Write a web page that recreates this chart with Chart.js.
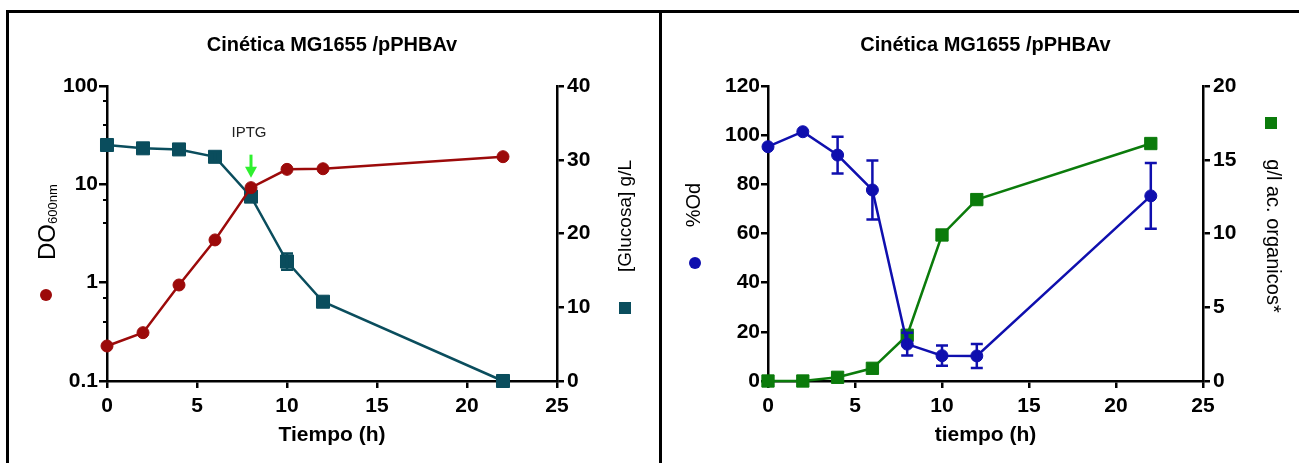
<!DOCTYPE html>
<html lang="es">
<head>
  <meta charset="utf-8" />
  <title>Cinética MG1655 /pPHBAv</title>
  <style>
    body { margin: 0; background: #fff; width: 1299px; height: 463px; overflow: hidden; position: relative; }
    .linea { position: absolute; background: #000; }
    .panel { position: absolute; top: 13px; height: 450px; }
  </style>
</head>
<body>
  <div class="linea" style="left:6px; top:10px; width:1293px; height:3px"></div>
  <div class="linea" style="left:6px; top:10px; width:3px; height:453px"></div>
  <div class="linea" style="left:659px; top:10px; width:3px; height:453px"></div>
  <div class="panel" style="left:9px; width:650px"><canvas id="chartDO"></canvas></div>
  <div class="panel" style="left:662px; width:637px"><canvas id="chartOd"></canvas></div>

  <script src="https://cdn.jsdelivr.net/npm/chart.js@4.4.4/dist/chart.umd.min.js"></script>
  <script>
    // === DATOS ===
    const tiempo = [0, 2, 4, 6, 8, 10, 12, 22];
    const densidadOptica = [0.227, 0.31, 0.947, 2.72, 9.25, 14.2, 14.4, 19.1];
    const glucosa = [32.0, 31.55, 31.4, 30.4, 25.0, 16.2, 10.75, 0];
    const glucosaError = [0, 0, 0, 0.6, 0, 1.1, 0, 0];
    const porcentajeOd = [95.3, 101.4, 91.9, 77.7, 15.0, 10.3, 10.2, 75.3];
    const porcentajeOdError = [0, 0, 7.5, 12, 4.6, 4.1, 4.9, 13.4];
    const acidosOrganicos = [0, 0, 0.25, 0.86, 3.1, 9.9, 12.3, 16.1];

    const ticksTiempo = [0, 5, 10, 15, 20, 25];
    const ticksDO = [0.1, 1, 10, 100];
    const ticksGlucosa = [0, 10, 20, 30, 40];
    const ticksOd = [0, 20, 40, 60, 80, 100, 120];
    const ticksAcidos = [0, 5, 10, 15, 20];
    const tiempoIPTG = 8;

    const ROJO = '#9c0a0a';
    const PETROLEO = '#0a4d5d';
    const AZUL = '#0f0fae';
    const VERDE = '#0b7b0b';
    const FUENTE = "'Liberation Sans', Arial, sans-serif";

    const puntos = serie => tiempo.map((t, i) => ({ x: t, y: serie[i] }));

    // ticks fijos a partir de las listas
    const fijarTicks = valores => s => { s.ticks = valores.map(v => ({ value: v })); };

    // década: 0.1..0.9, 1..9, 10..90, 100 (los mayores llevan número)
    function ticksLog(scale) {
      const lista = [];
      for (let d = 0; d < ticksDO.length - 1; d++) {
        for (let k = 1; k <= 9; k++) lista.push({ value: ticksDO[d] * k, major: k === 1 });
      }
      lista.push({ value: ticksDO[ticksDO.length - 1], major: true });
      scale.ticks = lista;
    }

    function ejeBase(extra) {
      return Object.assign({
        ticks: { color: '#000', font: { family: FUENTE, size: 21, weight: 'bold' } },
        grid: { drawOnChartArea: false, drawTicks: true, tickLength: 7, color: '#000', lineWidth: 2.5 },
        border: { display: true, color: '#000', width: 2.5 }
      }, extra);
    }

    function ejeX(alto) {
      const eje = ejeBase({ type: 'linear', min: 0, max: 25, afterBuildTicks: fijarTicks(ticksTiempo),
        afterFit: s => { s.height = alto; } });
      eje.ticks.padding = 6;
      return eje;
    }

    function dibujarErrores(chart, idx, errores, color) {
      const meta = chart.getDatasetMeta(idx);
      const escala = chart.scales[meta.yAxisID];
      const datos = chart.data.datasets[idx].data;
      const ctx = chart.ctx;
      ctx.save();
      ctx.strokeStyle = color;
      ctx.lineWidth = 2.5;
      meta.data.forEach((p, i) => {
        const e = errores[i];
        if (!e) return;
        const arriba = escala.getPixelForValue(datos[i].y + e);
        const abajo = escala.getPixelForValue(datos[i].y - e);
        ctx.beginPath();
        ctx.moveTo(p.x, arriba); ctx.lineTo(p.x, abajo);
        ctx.moveTo(p.x - 6, arriba); ctx.lineTo(p.x + 6, arriba);
        ctx.moveTo(p.x - 6, abajo); ctx.lineTo(p.x + 6, abajo);
        ctx.stroke();
      });
      ctx.restore();
    }

    function textoRotado(ctx, texto, x, y, angulo, fuente) {
      ctx.save();
      ctx.translate(x, y);
      ctx.rotate(angulo);
      ctx.font = fuente;
      ctx.textAlign = 'center';
      ctx.textBaseline = 'alphabetic';
      ctx.fillText(texto, 0, 0);
      ctx.restore();
    }

    function titulos(ctx, ca, xTitulo) {
      const cx = (ca.left + ca.right) / 2;
      ctx.fillStyle = '#000';
      ctx.textAlign = 'center';
      ctx.textBaseline = 'middle';
      ctx.font = `bold 20px ${FUENTE}`;
      ctx.fillText('Cinética MG1655 /pPHBAv', cx, ca.top - 41);
      ctx.font = `bold 21px ${FUENTE}`;
      ctx.fillText(xTitulo, cx, ca.bottom + 54);
    }

    function circulo(ctx, x, y, r, color) {
      ctx.fillStyle = color;
      ctx.beginPath();
      ctx.arc(x, y, r, 0, Math.PI * 2);
      ctx.fill();
    }

    // === GRÁFICO 1: DO y glucosa ===
    const rotulosDO = {
      id: 'rotulosDO',
      afterDatasetsDraw(chart) {
        dibujarErrores(chart, 1, glucosaError, PETROLEO);
      },
      afterDraw(chart) {
        const ctx = chart.ctx;
        const ca = chart.chartArea;
        const y = chart.scales.y;
        ctx.save();

        // marcas menores del eje logarítmico
        ctx.strokeStyle = '#000';
        ctx.lineWidth = 2;
        y.ticks.forEach(t => {
          if (t.major) return;
          const py = Math.round(y.getPixelForValue(t.value));
          ctx.beginPath();
          ctx.moveTo(ca.left - 4, py);
          ctx.lineTo(ca.left, py);
          ctx.stroke();
        });

        titulos(ctx, ca, 'Tiempo (h)');

        // DO600nm
        ctx.save();
        ctx.translate(ca.left - 52, ca.top + 174);
        ctx.rotate(-Math.PI / 2);
        ctx.fillStyle = '#000';
        ctx.textAlign = 'left';
        ctx.textBaseline = 'alphabetic';
        ctx.font = `24px ${FUENTE}`;
        ctx.fillText('DO', 0, 0);
        const w = ctx.measureText('DO').width;
        ctx.font = `13px ${FUENTE}`;
        ctx.fillText('600nm', w, 2);
        ctx.restore();
        circulo(ctx, ca.left - 61, ca.top + 209, 6, ROJO);

        ctx.fillStyle = '#000';
        textoRotado(ctx, '[Glucosa] g/L', ca.right + 74, ca.top + 130, -Math.PI / 2, `19px ${FUENTE}`);
        ctx.fillStyle = PETROLEO;
        ctx.fillRect(ca.right + 62, ca.top + 216, 12, 12);

        // IPTG
        const px = chart.scales.x.getPixelForValue(tiempoIPTG);
        const punta = y.getPixelForValue(densidadOptica[tiempo.indexOf(tiempoIPTG)]) - 10;
        ctx.fillStyle = '#222';
        ctx.font = `15px ${FUENTE}`;
        ctx.textAlign = 'center';
        ctx.textBaseline = 'middle';
        ctx.fillText('IPTG', px - 2, ca.top + 47);
        ctx.strokeStyle = '#2ef02e';
        ctx.fillStyle = '#2ef02e';
        ctx.lineWidth = 3;
        ctx.beginPath();
        ctx.moveTo(px, punta - 23);
        ctx.lineTo(px, punta - 9);
        ctx.stroke();
        ctx.beginPath();
        ctx.moveTo(px - 6, punta - 11);
        ctx.lineTo(px + 6, punta - 11);
        ctx.lineTo(px, punta);
        ctx.closePath();
        ctx.fill();

        ctx.restore();
      }
    };

    const ejeLog = ejeBase({ type: 'logarithmic', position: 'left', min: 0.1, max: 100,
      afterBuildTicks: ticksLog, afterFit: s => { s.width = 98; } });
    ejeLog.ticks.padding = 1;
    ejeLog.ticks.callback = (v, i, t) => t[i].major ? String(v) : '';
    ejeLog.grid.tickLength = 8;
    ejeLog.grid.tickColor = c => (c.tick && c.tick.major) ? '#000' : 'rgba(0,0,0,0)';

    const ejeGlucosa = ejeBase({ type: 'linear', position: 'right', min: 0, max: 40,
      afterBuildTicks: fijarTicks(ticksGlucosa), afterFit: s => { s.width = 102; } });
    ejeGlucosa.ticks.padding = 3;

    new Chart(document.getElementById('chartDO'), {
      type: 'line',
      data: {
        datasets: [
          {
            label: 'DO600nm', data: puntos(densidadOptica), yAxisID: 'y',
            borderColor: ROJO, backgroundColor: ROJO, borderWidth: 2.5,
            pointRadius: 6, pointBackgroundColor: ROJO, pointBorderColor: ROJO, pointBorderWidth: 1,
            clip: false
          },
          {
            label: '[Glucosa] g/L', data: puntos(glucosa), yAxisID: 'y2',
            borderColor: PETROLEO, backgroundColor: PETROLEO, borderWidth: 2.5,
            pointStyle: 'rect', pointRadius: 9.2, pointBackgroundColor: PETROLEO, pointBorderColor: PETROLEO,
            pointBorderWidth: 1, clip: false
          }
        ]
      },
      options: {
        responsive: true,
        maintainAspectRatio: false,
        animation: false,
        layout: { padding: { top: 73, left: 0, right: 0, bottom: 0 } },
        plugins: { legend: { display: false }, tooltip: { enabled: false } },
        scales: { x: ejeX(82), y: ejeLog, y2: ejeGlucosa }
      },
      plugins: [rotulosDO]
    });

    // === GRÁFICO 2: %Od y ácidos orgánicos ===
    const rotulosOd = {
      id: 'rotulosOd',
      afterDatasetsDraw(chart) {
        dibujarErrores(chart, 0, porcentajeOdError, AZUL);
      },
      afterDraw(chart) {
        const ctx = chart.ctx;
        const ca = chart.chartArea;
        ctx.save();
        titulos(ctx, ca, 'tiempo (h)');

        ctx.fillStyle = '#000';
        textoRotado(ctx, '%Od', ca.left - 68, ca.top + 119, -Math.PI / 2, `20px ${FUENTE}`);
        circulo(ctx, ca.left - 73, ca.top + 177, 6, AZUL);

        ctx.fillStyle = '#000';
        textoRotado(ctx, 'g/l ac. organicos*', ca.right + 64, ca.top + 150, Math.PI / 2, `20px ${FUENTE}`);
        ctx.fillStyle = VERDE;
        ctx.fillRect(ca.right + 62, ca.top + 31, 12, 12);
        ctx.restore();
      }
    };

    const ejeOd = ejeBase({ type: 'linear', position: 'left', min: 0, max: 120,
      afterBuildTicks: fijarTicks(ticksOd), afterFit: s => { s.width = 106; } });
    ejeOd.ticks.padding = 1;

    const ejeAcidos = ejeBase({ type: 'linear', position: 'right', min: 0, max: 20,
      afterBuildTicks: fijarTicks(ticksAcidos), afterFit: s => { s.width = 96; } });
    ejeAcidos.ticks.padding = 3;

    new Chart(document.getElementById('chartOd'), {
      type: 'line',
      data: {
        datasets: [
          {
            label: '%Od', data: puntos(porcentajeOd), yAxisID: 'y',
            borderColor: AZUL, backgroundColor: AZUL, borderWidth: 2.5,
            pointRadius: 6, pointBackgroundColor: AZUL, pointBorderColor: AZUL, pointBorderWidth: 1,
            clip: false
          },
          {
            label: 'g/l ac. organicos*', data: puntos(acidosOrganicos), yAxisID: 'y2',
            borderColor: VERDE, backgroundColor: VERDE, borderWidth: 2.5,
            pointStyle: 'rect', pointRadius: 8.7, pointBackgroundColor: VERDE, pointBorderColor: VERDE,
            pointBorderWidth: 1, clip: false
          }
        ]
      },
      options: {
        responsive: true,
        maintainAspectRatio: false,
        animation: false,
        layout: { padding: { top: 73, left: 0, right: 0, bottom: 0 } },
        plugins: { legend: { display: false }, tooltip: { enabled: false } },
        scales: { x: ejeX(82), y: ejeOd, y2: ejeAcidos }
      },
      plugins: [rotulosOd]
    });
  </script>
</body>
</html>
